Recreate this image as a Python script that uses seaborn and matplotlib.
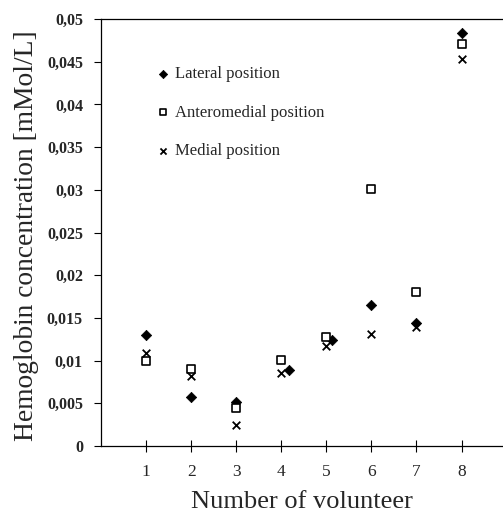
import matplotlib
matplotlib.use("Agg")
import matplotlib.pyplot as plt
import seaborn as sns
import pandas as pd

volunteers = [1, 2, 3, 4, 5, 6, 7, 8]
lateral_x = [1, 2, 3, 4.18, 5.12, 6, 7, 8]
lateral = [0.0130, 0.0057, 0.0052, 0.0089, 0.0124, 0.0165, 0.0144, 0.0484]
anteromedial = [0.0100, 0.0090, 0.0044, 0.0101, 0.0128, 0.0301, 0.0180, 0.0471]
medial = [0.0109, 0.0082, 0.0025, 0.0086, 0.0117, 0.0131, 0.0139, 0.0453]
yticks = [0, 0.005, 0.01, 0.015, 0.02, 0.025, 0.03, 0.035, 0.04, 0.045, 0.05]
ytick_labels = ["0", "0,005", "0,01", "0,015", "0,02", "0,025", "0,03", "0,035", "0,04", "0,045", "0,05"]

sns.set_style("white")
plt.rcParams["font.family"] = ["Liberation Serif", "DejaVu Serif"]

fig = plt.figure(figsize=(5.03, 5.14), dpi=100)
ax = fig.add_axes([0.2008, 0.1323, 0.7992, 0.8307])

df_l = pd.DataFrame({"x": lateral_x, "y": lateral})
df_a = pd.DataFrame({"x": volunteers, "y": anteromedial})
df_m = pd.DataFrame({"x": volunteers, "y": medial})

sns.scatterplot(data=df_l, x="x", y="y", ax=ax, marker="D", s=28, color="black",
                edgecolor="black", linewidth=0.5, label="Lateral position", zorder=3)
sns.scatterplot(data=df_a, x="x", y="y", ax=ax, marker="s", s=30, facecolor="white",
                edgecolor="black", linewidth=1.2, label="Anteromedial position", zorder=3)
sns.scatterplot(data=df_m, x="x", y="y", ax=ax, marker="x", s=30, color="black",
                linewidth=1.3, label="Medial position", zorder=4)

ax.set_xlim(0, 8.92)
ax.set_ylim(0, 0.05)
ax.set_xticks(volunteers)
ax.set_xticklabels([str(v) for v in volunteers], fontsize=12.5)
ax.set_yticks(yticks)
ax.set_yticklabels(ytick_labels, fontsize=11.5, fontweight="bold")
ax.tick_params(axis="x", direction="inout", length=8, width=0.8, pad=9, color="black")
ax.tick_params(axis="y", direction="out", length=5, width=0.8, pad=8, color="black")
ax.tick_params(left=True, bottom=True)

for side in ["left", "bottom", "top"]:
    ax.spines[side].set_color("black")
    ax.spines[side].set_linewidth(0.9)
ax.spines["right"].set_visible(False)

ax.set_xlabel("Number of volunteer", fontsize=19, labelpad=8)
ax.set_ylabel("Hemoglobin concentration [mMol/L]", fontsize=19.8)
ax.yaxis.set_label_coords(-0.155, 0.492)

leg = ax.legend(loc="upper left", bbox_to_anchor=(0.1, 0.925), frameon=False,
                fontsize=12, labelspacing=1.35, handletextpad=0.35,
                handlelength=0.8, markerscale=0.8)

fig.savefig("out.png", dpi=100, facecolor="white")
